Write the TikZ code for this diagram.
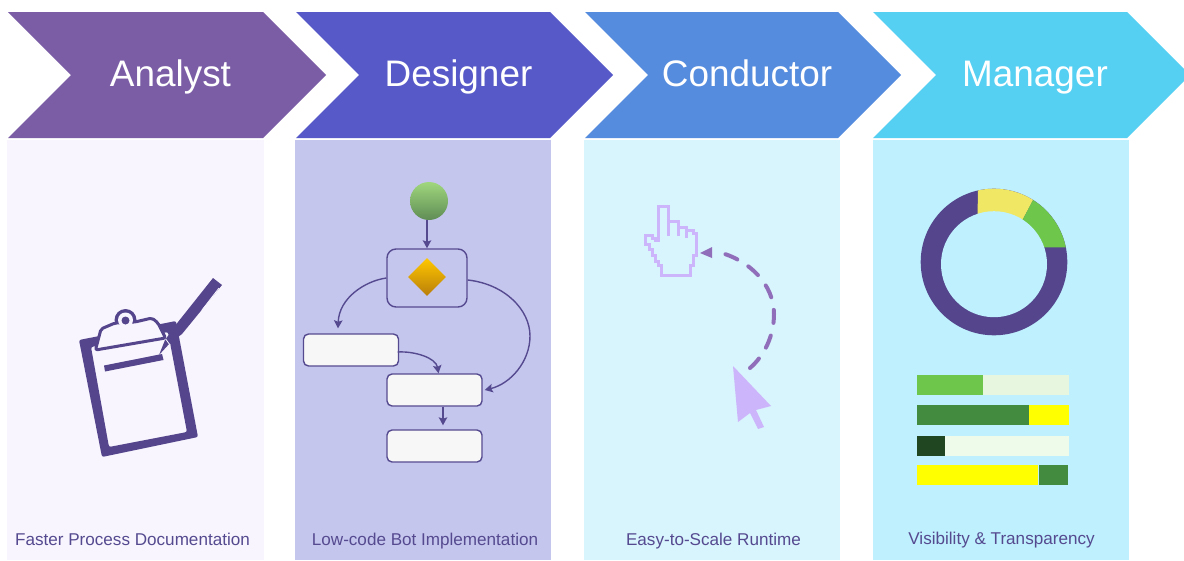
\documentclass[tikz,border=0pt]{standalone}
\usepackage{fontspec}
\setmainfont{Liberation Sans}
\usetikzlibrary{shapes.geometric,arrows.meta,calc}
\definecolor{ink}{HTML}{554A90}
\definecolor{deep}{HTML}{54458C}
\definecolor{pa}{RGB}{248,245,254}
\definecolor{pb}{RGB}{197,198,238}
\definecolor{pc}{RGB}{216,244,253}
\definecolor{pd}{RGB}{190,240,253}
\definecolor{pale}{RGB}{205,181,251}
\definecolor{dashc}{RGB}{145,110,185}
\definecolor{lime}{RGB}{110,198,75}
\definecolor{forest}{RGB}{67,140,63}
\definecolor{pureyellow}{RGB}{255,255,0}
\tikzset{
  x=1pt,y=-1pt,
  chevtext/.style={text=white,font=\fontsize{36.9}{40}\selectfont,anchor=base,inner sep=0pt},
  captext/.style={text=ink,font=\fontsize{17.1}{19}\selectfont,anchor=base,inner sep=0pt},
  flowbox/.style={draw=ink,line width=1.4pt,fill=white!97!black,rounded corners=5pt,minimum width=95pt,minimum height=32pt,inner sep=0pt,anchor=center},
  flowline/.style={draw=ink,line width=1.4pt,-{Stealth[length=8pt,width=8.5pt,inset=1.5pt]}},
}
\begin{document}
\begin{tikzpicture}
\useasboundingbox (0,0) rectangle (1184,560);
\fill[white] (0,0) rectangle (1184,560);
% panels
\fill[pa] (7,140) rectangle (264,560);
\fill[pb] (295,140) rectangle (551,560);
\fill[pc] (584,140) rectangle (840,560);
\fill[pd] (873,140) rectangle (1129,560);
% chevrons
\fill[fill={rgb,255:red,123;green,93;blue,166}] (8,12)--(263,12)--(326,75)--(263,138)--(8,138)--(71,75)--cycle;
\fill[fill={rgb,255:red,87;green,89;blue,200}] (296,12)--(550,12)--(613,75)--(550,138)--(296,138)--(359,75)--cycle;
\fill[fill={rgb,255:red,85;green,140;blue,222}] (585,12)--(838,12)--(901,75)--(838,138)--(585,138)--(648,75)--cycle;
\fill[fill={rgb,255:red,85;green,207;blue,242}] (873,12)--(1127,12)--(1184,69)--(1184,81)--(1127,138)--(873,138)--(936,75)--cycle;
\node[chevtext] (t1) at (170.5,86) {Analyst};
\node[chevtext] (t2) at (458.5,86) {Designer};
\node[chevtext] (t3) at (747,86) {Conductor};
\node[chevtext] (t4) at (1035,86) {Manager};
\node[captext] (c1) at (132.5,545.5) {Faster Process Documentation};
\node[captext] (c2) at (425,545.5) {Low-code Bot Implementation};
\node[captext] (c3) at (713.5,545.5) {Easy-to-Scale Runtime};
\node[captext] (c4) at (1001.5,544.5) {Visibility \& Transparency};
% flow
\node[circle,minimum size=38pt,inner sep=0pt,top color={rgb,255:red,160;green,215;blue,125},bottom color={rgb,255:red,95;green,140;blue,85}] (start) at (429,201) {};
\node[flowbox,rounded corners=9pt,minimum width=80pt,minimum height=58pt,fill=none] (gate) at (427,278) {};
\node[diamond,aspect=1,minimum size=38pt,inner sep=0pt,top color={rgb,255:red,255;green,200;blue,0},bottom color={rgb,255:red,185;green,125;blue,10}] (dec) at (427,277) {};
\node[flowbox] (b1) at (351,350) {};
\node[flowbox] (b2) at (434.5,390) {};
\node[flowbox] (b3) at (434.5,446) {};
\draw[flowline] (gate.north |- start.south) -- (gate.north);
\draw[flowline] (gate.west) .. controls (365,281) and (339,298) .. ([xshift=-13pt,yshift=5pt]b1.north);
\draw[flowline] ([yshift=-2pt]gate.east) .. controls (505,284) and (530,310) .. (530,336) .. controls (530,362) and (510,384) .. ([xshift=2pt]b2.east);
\draw[flowline] ([xshift=-1.5pt,yshift=-2pt]b1.east) .. controls (415,351) and (436,358) .. ([xshift=4pt]b2.north);
\draw[flowline] ([xshift=8.5pt]b2.south) -- ([xshift=8.5pt,yshift=4pt]b3.north);
% donut
\begin{scope}[shift={(994,262)},y=1pt]
\fill[deep] (0,0) circle[radius=73.3];
\fill[fill={rgb,255:red,240;green,232;blue,100}] (102.8:73.3) arc[start angle=102.8,end angle=57.8,radius=73.3] -- (24,33.5) -- (-16.3,33.5) -- cycle;
\fill[lime] (57.8:73.3) arc[start angle=57.8,end angle=11.6,radius=73.3] -- (24,14.7) -- (24,33.5) -- cycle;
\fill[pd] (0,-2.2) circle[radius=53];
\end{scope}
% bars
\fill[fill={rgb,255:red,230;green,246;blue,223}] (917,375) rectangle (1069,395);
\fill[lime] (917,375) rectangle (983,395);
\fill[pureyellow] (1029,405) rectangle (1069,425);
\fill[forest] (917,405) rectangle (1029,425);
\fill[fill={rgb,255:red,238;green,251;blue,235}] (945,436) rectangle (1069,456);
\fill[fill={rgb,255:red,31;green,70;blue,32}] (917,436) rectangle (945,456);
\fill[pureyellow] (917,465) rectangle (1037.5,485);
\fill[forest] (1039,465) rectangle (1068,485);
% cursor
\fill[pale] (733,366) -- (771,406) -- (756,410) -- (764,427) -- (758,429) -- (750,413) -- (738,422) -- cycle;
\draw[draw=dashc,line width=4pt,dash pattern=on 13pt off 13pt,line cap=round] (750,368) .. controls (765,355) and (774,335) .. (774,314) .. controls (774,285) and (750,260) .. (718,252);
\fill[dashc] (700,253) -- (712,247) -- (712,258) -- cycle;
\draw[draw=pale,line width=3pt] (661.7,275) -- (661.7,265) -- (658,265) -- (658,261) -- (655,261) -- (655,255) -- (652,255) -- (652,249) -- (649,249) -- (649,244) -- (645,244) -- (645,235) -- (652,235) -- (652,238) -- (655,238) -- (655,240) -- (658.3,240) -- (658.3,206) -- (668.3,206) -- (668.3,221) -- (678,221) -- (678,227) -- (686,227) -- (686,230) -- (693,230) -- (693,233) -- (696.7,233) -- (696.7,255) -- (693.3,255) -- (693.3,265) -- (690,265) -- (690,275) -- cycle;
\draw[draw=pale,line width=3pt] (668.3,221) -- (668.3,236) (678,227) -- (678,236) (686,230) -- (686,238);
% clipboard
\fill[deep,even odd rule,rounded corners=2pt] (79,340) -- (176,321) -- (198,437) -- (102,457) -- cycle (91,347) -- (168,332) -- (187,432) -- (109,447) -- cycle;
\fill[deep] (178,322) -- (213,278) -- (222,285) -- (182,334) -- (170,343) -- (159,355) -- (165,340) -- cycle;
\draw[pa,line width=0.8pt] (202,310) -- (219,288);
\draw[pa,line width=0.8pt] (165,338) -- (170,345);
\fill[deep] (125.5,320) circle[radius=11];
\fill[pa,draw=deep,line width=3pt,line join=round,rounded corners=2pt] (95.5,350) -- (101,329) -- (115,323) -- (135,322) -- (152,318) -- (158,323) -- (165.5,338) -- cycle;
\fill[pa] (125.5,320) circle[radius=7.5];
\fill[deep] (125.5,320.5) circle[radius=4];
\fill[deep] (104,365.5) -- (162,354) -- (163.5,360) -- (105,371.5) -- cycle;
\end{tikzpicture}
\end{document}
